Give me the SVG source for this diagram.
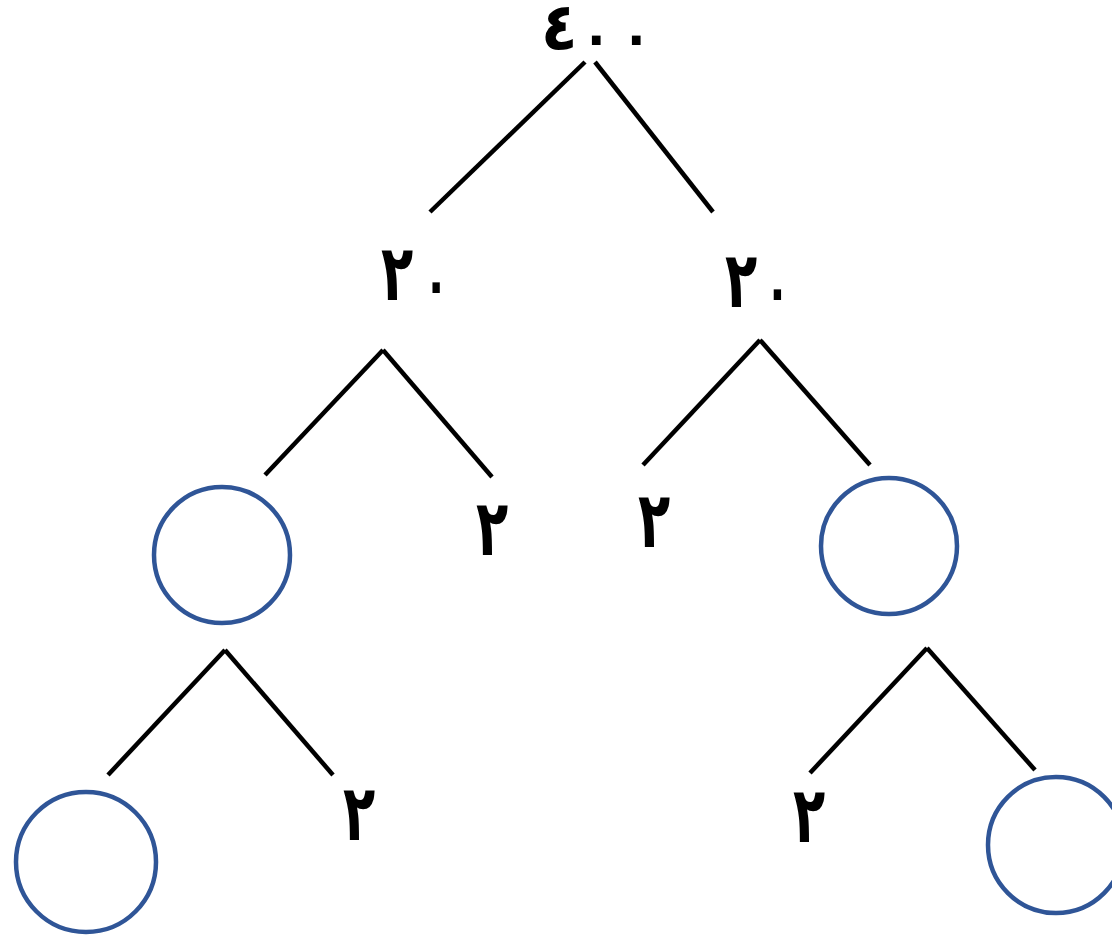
<svg xmlns="http://www.w3.org/2000/svg" width="1112" height="935" viewBox="0 0 1112 935">
<style>
.n{font-family:"DejaVu Sans",sans-serif;font-weight:bold;font-size:60px;fill:#000;direction:ltr}
.z{font-size:48px}
.c{fill:none;stroke:#2F5597;stroke-width:4.5}
.l{stroke:#000;stroke-width:4.5;stroke-linecap:butt}
</style>
<rect width="1112" height="935" fill="#fff"/>
<g id="connectors">
<line class="l" x1="585" y1="62" x2="430" y2="212"/>
<line class="l" x1="595" y1="62" x2="713" y2="212"/>
<line class="l" x1="383" y1="350" x2="265" y2="475"/>
<line class="l" x1="383" y1="350" x2="492" y2="477"/>
<line class="l" x1="760" y1="340" x2="643" y2="465"/>
<line class="l" x1="760" y1="340" x2="870" y2="465"/>
<line class="l" x1="225" y1="650" x2="108" y2="775"/>
<line class="l" x1="225" y1="650" x2="333" y2="775"/>
<line class="l" x1="927" y1="648" x2="810" y2="773"/>
<line class="l" x1="927" y1="648" x2="1035" y2="770"/>
</g>
<g id="n400"><text class="n" transform="translate(541,50) scale(1,1.1)"><tspan x="0">٤</tspan><tspan x="40" dy="5.5" style="font-size:50px">٠</tspan><tspan x="80" style="font-size:50px">٠</tspan></text></g>
<g id="n20a"><text class="n" transform="translate(381,300) scale(0.88,1.3)"><tspan x="0">٢</tspan><tspan class="z" x="48" dy="3.7">٠</tspan></text></g>
<g id="n20b"><text class="n" transform="translate(725,307) scale(0.88,1.3)"><tspan x="0">٢</tspan><tspan class="z" x="45" dy="3.7">٠</tspan></text></g>
<g id="c1"><circle class="c" cx="222" cy="555" r="68"/></g>
<g id="n2a"><text class="n" transform="translate(476,555) scale(0.88,1.3)">٢</text></g>
<g id="n2b"><text class="n" transform="translate(638,547) scale(0.88,1.3)">٢</text></g>
<g id="c2"><circle class="c" cx="889" cy="546" r="68"/></g>
<g id="c3"><circle class="c" cx="86" cy="862" r="70"/></g>
<g id="n2c"><text class="n" transform="translate(343,840) scale(0.88,1.3)">٢</text></g>
<g id="n2d"><text class="n" transform="translate(793,842) scale(0.88,1.3)">٢</text></g>
<g id="c4"><circle class="c" cx="1056" cy="845" r="68"/></g>
</svg>
